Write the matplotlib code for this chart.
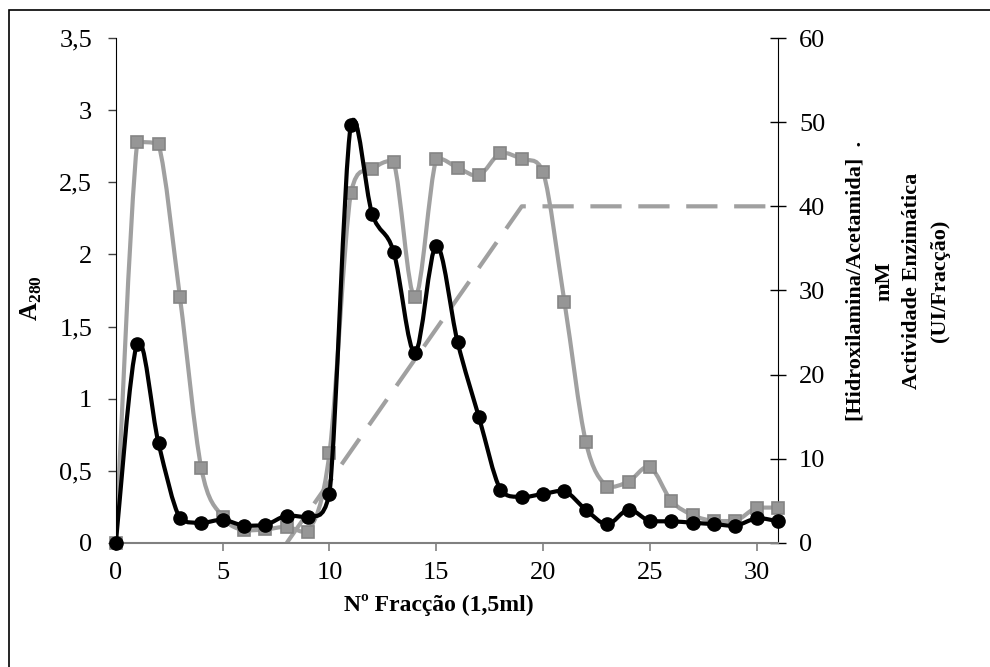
import numpy as np
import matplotlib
matplotlib.use("Agg")
import matplotlib.pyplot as plt
from matplotlib.path import Path
from matplotlib.patches import PathPatch, Rectangle

plt.rcParams['font.family'] = ['Liberation Serif', 'DejaVu Serif']
plt.rcParams['mathtext.fontset'] = 'custom'
plt.rcParams['mathtext.rm'] = 'Liberation Serif'
plt.rcParams['mathtext.bf'] = 'Liberation Serif:bold'

fraccao = list(range(0, 32))
a280 = [0, 1.38, 0.69, 0.17, 0.14, 0.16, 0.12, 0.125, 0.19, 0.18, 0.34,
        2.90, 2.28, 2.02, 1.32, 2.06, 1.39, 0.87, 0.37, 0.32, 0.34,
        0.36, 0.23, 0.13, 0.23, 0.15, 0.15, 0.14, 0.13, 0.12, 0.17, 0.15]
actividade = [0, 47.6, 47.4, 29.2, 8.9, 3.1, 1.5, 1.6, 1.9, 1.3, 10.7,
              41.6, 44.4, 45.3, 29.2, 45.6, 44.6, 43.7, 46.3, 45.6, 44.1,
              28.6, 12.0, 6.7, 7.3, 9.0, 5.0, 3.3, 2.6, 2.6, 4.2, 4.2]
grad_x = [8, 19, 31]
grad_mM = [0, 40, 40]

left_ticks = [0, 0.5, 1, 1.5, 2, 2.5, 3, 3.5]
left_labels = ['0', '0,5', '1', '1,5', '2', '2,5', '3', '3,5']
right_ticks = [0, 10, 20, 30, 40, 50, 60]
x_ticks = [0, 5, 10, 15, 20, 25, 30]


def smooth_path(xs, ys):
    # smoothed line like Excel: cubic Bezier segments, control points kept
    # close to each segment's range so the curve does not overshoot much
    pts = np.column_stack([xs, ys]).astype(float)
    n = len(pts)
    verts = [pts[0]]
    codes = [Path.MOVETO]
    for i in range(n - 1):
        p0 = pts[max(i - 1, 0)]
        p1 = pts[i]
        p2 = pts[i + 1]
        p3 = pts[min(i + 2, n - 1)]
        c1 = p1 + (p2 - p0) / 6.0
        c2 = p2 - (p3 - p1) / 6.0
        lo, hi = min(p1[1], p2[1]), max(p1[1], p2[1])
        m = 0.3 * (hi - lo)
        c1[1] = np.clip(c1[1], lo - m, hi + m)
        c2[1] = np.clip(c2[1], lo - m, hi + m)
        verts += [c1, c2, p2]
        codes += [Path.CURVE4] * 3
    return Path(verts, codes)


fig = plt.figure(figsize=(9.9, 6.67), dpi=100)
ax = fig.add_axes([0.117, 0.186, 0.669, 0.757])
ax2 = ax.twinx()

gray_line = '#a0a0a0'
gray_mark = '#969696'

# right axis series
ax2.plot(grad_x, grad_mM, color=gray_line, lw=3, dashes=(7.5, 4), zorder=2)
ax2.add_patch(PathPatch(smooth_path(fraccao, actividade), fill=False,
                        edgecolor=gray_line, lw=3, zorder=3))
ax2.plot(fraccao, actividade, ls='none', marker='s', ms=8.5,
         mfc=gray_mark, mec='#858585', mew=1.2, zorder=4, clip_on=False)

# left axis series (drawn on top)
ax.set_zorder(ax2.get_zorder() + 1)
ax.patch.set_visible(False)
ax.add_patch(PathPatch(smooth_path(fraccao, a280), fill=False,
                       edgecolor='black', lw=3, zorder=3))
ax.plot(fraccao, a280, ls='none', marker='o', ms=9.5, color='black',
        zorder=4, clip_on=False)

ax.set_xlim(0, 31)
ax.set_ylim(0, 3.5)
ax2.set_ylim(0, 60)

ax.set_xticks(x_ticks)
ax.set_xticklabels([str(t) for t in x_ticks])
ax.set_yticks(left_ticks)
ax.set_yticklabels(left_labels)
ax2.set_yticks(right_ticks)
ax2.set_yticklabels([str(t) for t in right_ticks])

for a in (ax, ax2):
    a.spines['top'].set_visible(False)
ax.spines['right'].set_visible(False)
ax2.spines['left'].set_visible(False)
ax2.spines['bottom'].set_visible(False)
ax.spines['bottom'].set_color('#808080')
ax.spines['bottom'].set_linewidth(1.5)
ax.spines['left'].set_color('black')
ax2.spines['right'].set_color('black')

ax.tick_params(axis='x', direction='out', length=6, width=1.2, color='#808080',
               labelsize=19, pad=8)
ax.tick_params(axis='y', direction='out', length=6, width=1, color='#404040',
               labelsize=19, pad=11)
ax2.tick_params(axis='y', direction='inout', length=12, width=1, color='black',
                labelsize=19, pad=9)

fig.text(439 / 990, 1 - 605 / 667, 'Nº Fracção (1,5ml)', fontsize=17,
         fontweight='bold', ha='center', va='center')
fig.text(31 / 990, 1 - 298 / 667, r'$\mathbf{A}_{\mathbf{280}}$', fontsize=18,
         rotation=90, ha='center', va='center')

fig.text(898 / 990, 1 - 281 / 667,
         '[Hidroxilamina/Acetamida]  .\nmM\nActividade Enzimática\n(UI/Fracção)',
         rotation=90, ha='center', va='center', fontsize=16, fontweight='bold',
         linespacing=1.55, multialignment='center')

# outer chart frame (only left and top edges fall inside the picture)
fig.add_artist(Rectangle((9 / 990, -0.05), 1.1, 1 - 10 / 667 + 0.05,
                         transform=fig.transFigure, fill=False,
                         edgecolor='black', lw=1.2))

fig.savefig('out.png', dpi=100)
